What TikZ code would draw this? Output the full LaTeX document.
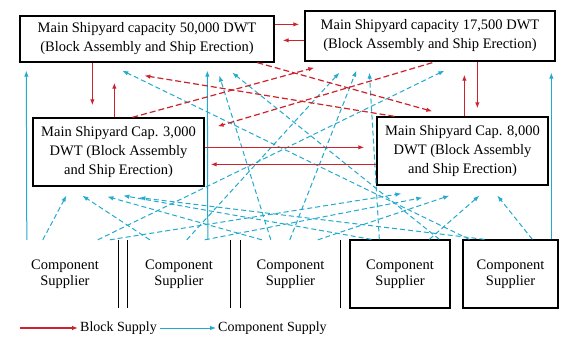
\documentclass[tikz,border=0pt]{standalone}
\usepackage{fontspec}
\setmainfont{Liberation Serif}
\usetikzlibrary{arrows.meta,calc}
\definecolor{blk}{RGB}{205,35,45}
\definecolor{cmp}{RGB}{35,170,205}
\begin{document}
\begin{tikzpicture}[x=1pt,y=-1pt,
 box/.style={draw=black,line width=1.3pt,align=center,inner sep=0pt,font=\fontsize{14.5}{19}\selectfont},
 sup/.style={align=center,inner sep=0pt,font=\fontsize{14.5}{16.5}\selectfont},
 supbox/.style={sup,draw=black,line width=1.3pt},
 edge/.style={draw=black,line width=1.3pt},
 rsol/.style={draw=blk,line width=1.2pt,-{Latex[length=6pt,width=4.5pt]}},
 rdash/.style={rsol,dash pattern=on 6pt off 3pt},
 bsol/.style={draw=cmp,line width=1pt,-{Latex[length=6pt,width=4.5pt]}},
 bdash/.style={bsol,dash pattern=on 5pt off 3pt},
 leg/.style={anchor=west,inner sep=2pt,font=\fontsize{14}{16}\selectfont}
]
\useasboundingbox (0,0) rectangle (561,343);
\fill[white] (0,0) rectangle (561,343);

% shipyards
\node[box,minimum width=254pt,minimum height=46pt] (A) at (147,39) {Main Shipyard capacity 50,000 DWT\\(Block Assembly and Ship Erection)};
\node[box,minimum width=250pt,minimum height=50pt] (B) at (430,36) {Main Shipyard capacity 17,500 DWT\\(Block Assembly and Ship Erection)};
\node[box,minimum width=171pt,minimum height=68pt] (C) at (118.5,152) {Main Shipyard Cap. 3,000\\DWT (Block Assembly\\and Ship Erection)};
\node[box,minimum width=171pt,minimum height=68pt] (D) at (462.5,151) {Main Shipyard Cap. 8,000\\DWT (Block Assembly\\and Ship Erection)};

% suppliers
\node[sup,minimum width=106pt,minimum height=68pt] (S1) at (65,274) {Component\\Supplier};
\node[sup,minimum width=102pt,minimum height=68pt] (S2) at (179,274) {Component\\Supplier};
\node[sup,minimum width=99pt,minimum height=68pt] (S3) at (290.5,274) {Component\\Supplier};
\node[supbox,minimum width=100pt,minimum height=68pt] (S4) at (400,274) {Component\\Supplier};
\node[supbox,minimum width=95pt,minimum height=68pt] (S5) at (510.5,274) {Component\\Supplier};
\draw[edge] (S1.north east) -- (S1.south east);
\draw[edge] (S2.north west) -- (S2.south west);
\draw[edge] (S2.north east) -- (S2.south east);
\draw[edge] (S3.north west) -- (S3.south west);
\draw[edge] (S3.north east) -- (S3.south east);

% component supply to A
\draw[bsol]  ($(S1.north west)+(15,0)$) -- ($(A.south west)+(7,8)$);
\draw[bsol]  ($(S2.north west)+(80,0)$) -- ($(A.south west)+(188,8)$);
\draw[bdash] ($(S3.north west)+(30,0)$) -- ($(A.south west)+(200,13)$);
\draw[bdash] ($(S4.north west)+(90,0)$) -- ($(A.south west)+(213,10)$);
\draw[bdash] ($(S5.north west)+(7,0)$) -- ($(A.south west)+(103,8)$);
% component supply to B
\draw[bsol]  ($(S5.north west)+(89,0)$) -- ($(B.south west)+(247,11)$);
\draw[bdash] ($(S1.north west)+(86,0)$) -- ($(B.south west)+(140,9)$);
\draw[bdash] ($(S2.north west)+(59,0)$) -- ($(B.south west)+(35,11)$);
\draw[bdash] ($(S3.north west)+(49,0)$) -- ($(B.south west)+(52,9)$);
\draw[bdash] ($(S4.north west)+(30,0)$) -- ($(B.south west)+(65,11)$);
% component supply to C
\draw[bdash] ($(S1.north west)+(31,0)$) -- ($(C.south west)+(34,9)$);
\draw[bdash] ($(S2.north west)+(22,0)$) -- ($(C.south west)+(50,9)$);
\draw[bdash] ($(S3.north west)+(21,0)$) -- ($(C.south west)+(75,10)$);
\draw[bdash] ($(S4.north west)+(22,0)$) -- ($(C.south west)+(91,9)$);
\draw[bdash] ($(S5.north west)+(22,0)$) -- ($(C.south west)+(107,11)$);
% component supply to D
\draw[bdash] ($(S5.north west)+(70,0)$) -- ($(D.south west)+(121,10)$);
\draw[bdash] ($(S4.north west)+(80,0)$) -- ($(D.south west)+(103,10)$);
\draw[bdash] ($(S3.north west)+(77,0)$) -- ($(D.south west)+(73,10)$);
\draw[bdash] ($(S2.north west)+(77,0)$) -- ($(D.south west)+(46,12)$);
\draw[bdash] ($(S1.north west)+(98,0)$) -- ($(D.south west)+(25,8)$);

% block supply
\draw[rsol] ($(A.north east)+(0,9)$) -- ($(B.north west)+(-5,14)$);
\draw[rsol] ($(B.north west)+(0,30)$) -- ($(A.north east)+(8,25)$);
\draw[rsol] ($(A.south west)+(73,0)$) -- ($(C.north west)+(60,-12)$);
\draw[rsol] ($(C.north west)+(82,0)$) -- ($(A.south west)+(95,20)$);
\draw[rsol] ($(D.north west)+(88,0)$) -- ($(B.south west)+(160,13)$);
\draw[rsol] ($(B.south west)+(173,0)$) -- ($(D.north west)+(101,-8)$);
\draw[rsol] ($(C.north east)+(0,30)$) -- ($(D.north west)+(-12,31)$);
\draw[rsol] ($(D.north west)+(0,48)$) -- ($(C.north east)+(6,47)$);
\draw[rdash] ($(A.south west)+(238,0)$) -- ($(D.north west)+(56,-5)$);
\draw[rdash] ($(D.north west)+(18,0)$) -- ($(A.south west)+(125,13)$);
\draw[rdash] ($(B.south west)+(128,1)$) -- ($(C.north east)+(13,9)$);
\draw[rdash] ($(C.north west)+(100,0)$) -- ($(B.south west)+(10,6)$);

% legend
\coordinate (L1) at (20,328);
\node[leg] (LB) at (78,328) {Block Supply};
\draw[rsol] (L1) -- (LB.west);
\coordinate (L2) at (160,328);
\node[leg] (LC) at (216,328) {Component Supply};
\draw[bsol] (L2) -- (LC.west);
\end{tikzpicture}
\end{document}
